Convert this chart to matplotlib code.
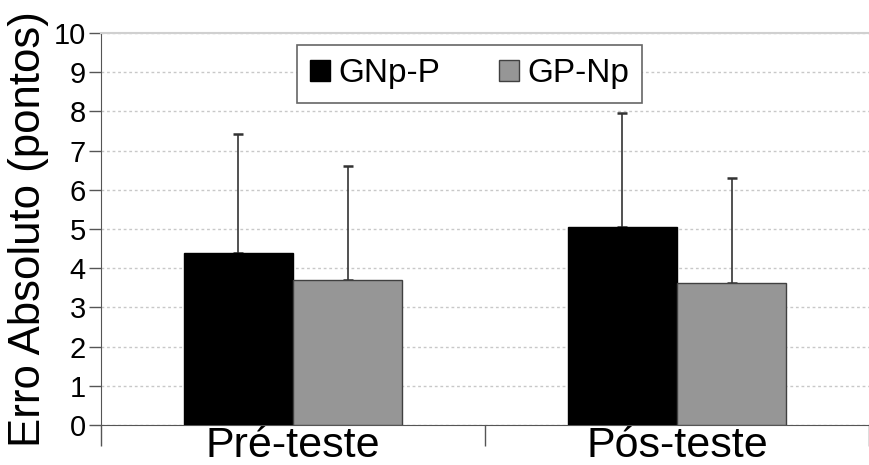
import matplotlib
matplotlib.use("Agg")
import matplotlib.pyplot as plt
import numpy as np

categories = ["Pré-teste", "Pós-teste"]
series_names = ["GNp-P", "GP-Np"]
gnp_p = [4.39, 5.04]
gp_np = [3.71, 3.61]
gnp_p_err = [3.03, 2.92]
gp_np_err = [2.90, 2.69]
yticks = list(range(0, 11))

plt.rcParams['font.family'] = ['Liberation Sans', 'DejaVu Sans']

fig = plt.figure(figsize=(8.69, 4.65), dpi=100)
ax = fig.add_axes([101 / 869, 1 - 425 / 465, 1 - 101 / 869, (425 - 33) / 465])

x = np.arange(len(categories))
w = 0.285
ax.bar(x - w / 2, gnp_p, w, color="#000000", edgecolor="#000000", linewidth=1,
       label=series_names[0], zorder=3)
ax.bar(x + w / 2, gp_np, w, color="#969696", edgecolor="#404040", linewidth=1,
       label=series_names[1], zorder=3)
ax.errorbar(x - w / 2, gnp_p, yerr=[np.zeros(len(x)), gnp_p_err], fmt="none",
            ecolor="#333333", elinewidth=1.2, capsize=3.5, capthick=1.8, zorder=2)
ax.errorbar(x + w / 2, gp_np, yerr=[np.zeros(len(x)), gp_np_err], fmt="none",
            ecolor="#333333", elinewidth=1.2, capsize=3.5, capthick=1.8, zorder=2)

ax.set_ylim(0, 10)
ax.set_xlim(-0.5, 1.474)
ax.set_yticks(yticks)
ax.set_yticklabels([str(t) for t in yticks], fontsize=21)
ax.tick_params(axis="y", direction="out", length=9, width=1, color="#555555", pad=2)

# category boundaries as major ticks, labels at minor positions
ax.set_xticks([-0.5, 0.5, 1.5])
ax.set_xticklabels([])
ax.set_xticks(x, minor=True)
ax.set_xticklabels(categories, minor=True, fontsize=31)
ax.tick_params(axis="x", which="major", direction="out", length=15, width=1, color="#555555")
ax.tick_params(axis="x", which="minor", length=0, pad=1)

ax.yaxis.grid(True, linestyle=(0, (2, 2)), color="#c8c8c8", linewidth=1, zorder=0)
ax.set_axisbelow(True)

ax.spines["right"].set_visible(False)
ax.spines["top"].set_color("#d0d0d0")
ax.spines["top"].set_linewidth(1.5)
ax.spines["left"].set_color("#555555")
ax.spines["bottom"].set_color("#555555")

ax.set_ylabel("Erro Absoluto (pontos)", fontsize=31.5, labelpad=3)

leg = ax.legend(loc="upper left", bbox_to_anchor=(0.255, 0.969), ncol=2, fontsize=24,
                frameon=True, fancybox=False, edgecolor="#666666", framealpha=1,
                handlelength=0.6, handleheight=0.6, handletextpad=0.25,
                columnspacing=1.75, borderpad=0.4, borderaxespad=0)
leg.get_frame().set_linewidth(1.2)

fig.savefig("out.png", dpi=100)
